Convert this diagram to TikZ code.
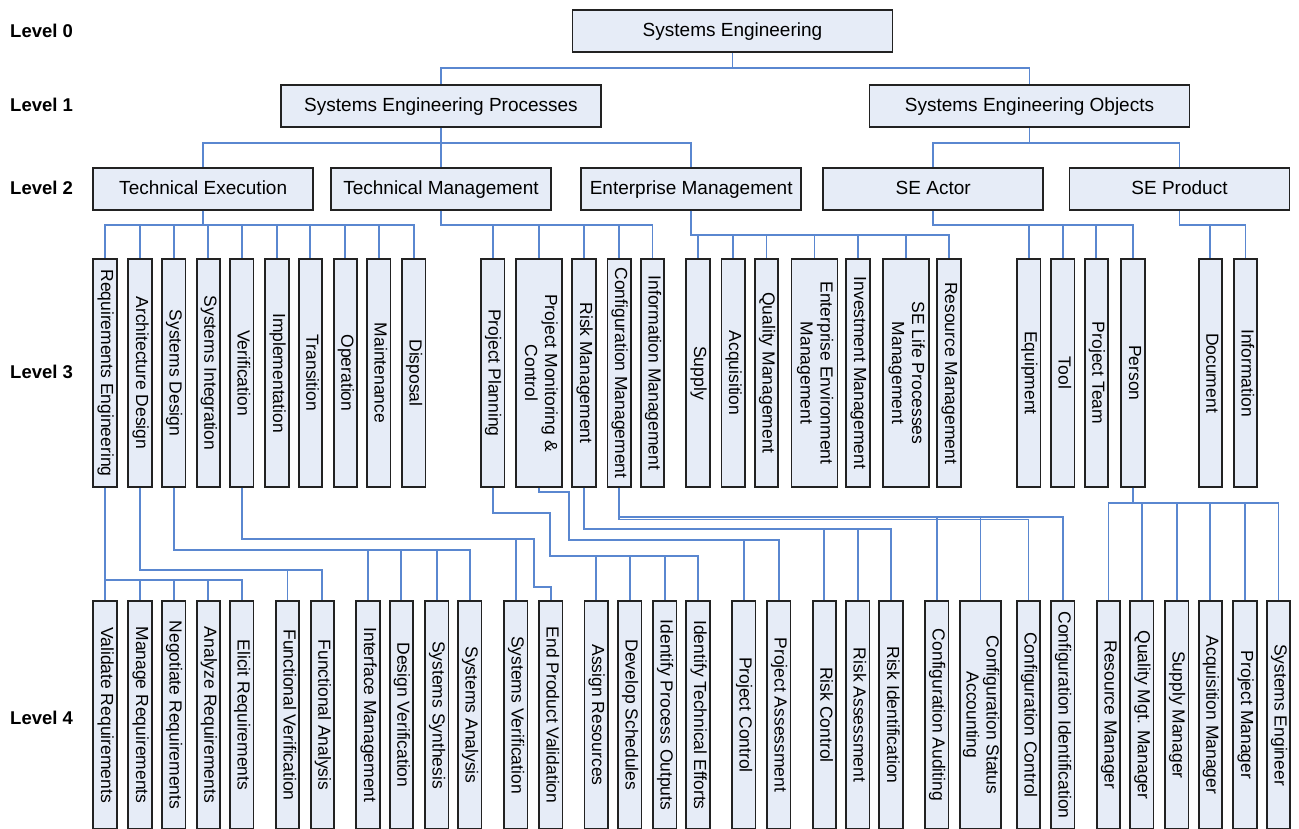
\documentclass[tikz,border=0pt]{standalone}
\usepackage{fontspec}
\setmainfont{Liberation Sans}
\usepackage{graphicx}
\definecolor{boxfill}{HTML}{E6ECF7}
\definecolor{boxline}{HTML}{222222}
\definecolor{linkblue}{HTML}{5A87D0}

% vertical (top-to-bottom) label, one or more centred lines
\newcommand{\vtxt}[1]{\rotatebox{-90}{\begin{tabular}{@{}c@{}}#1\end{tabular}}}

\begin{document}
\begin{tikzpicture}[x=1pt, y=-1pt,
  hbox/.style={draw=boxline, fill=boxfill, line width=1.8pt, minimum width=220pt,
    minimum height=42pt, inner sep=0pt, text height=12pt, text depth=1pt,
    font=\fontsize{19}{21}\selectfont},
  wbox/.style={hbox, minimum width=320pt},
  vbox/.style={draw=boxline, fill=boxfill, line width=1.8pt, minimum width=23.4pt,
    minimum height=228pt, inner sep=0pt, font=\fontsize{17.5}{20}\selectfont},
  vwide/.style={minimum width=46pt},
  conn/.style={draw=linkblue, line width=1.7pt},
  lvl/.style={anchor=west, inner sep=0pt, font=\fontsize{18.5}{20}\selectfont\bfseries},
]
\useasboundingbox (0,0) rectangle (1299,828);
\clip (0,0) rectangle (1299,828);

% ---------- level captions ----------
\node[lvl] (lv0) at (10,31)  {Level 0};
\node[lvl] (lv1) at (10,105) {Level 1};
\node[lvl] (lv2) at (10,188) {Level 2};
\node[lvl] (lv3) at (10,372) {Level 3};
\node[lvl] (lv4) at (10,718) {Level 4};

% ---------- bus heights ----------
\coordinate (y0) at (0,67.7);
\coordinate (y1) at (0,142.7);
\coordinate (y2) at (0,225.3);
\coordinate (y2e) at (0,234.7);
\coordinate (yRE) at (0,580);
\coordinate (yAD) at (0,570);
\coordinate (ySD) at (0,550);
\coordinate (yV) at (0,538.7);
\coordinate (yV2) at (0,586.7);
\coordinate (jV) at (534,538.7);
\coordinate (jP) at (550,512.7);
\coordinate (yPP) at (0,556);
\coordinate (jM) at (569.3,492.3);
\coordinate (yPM) at (0,540.3);
\coordinate (yRM) at (0,529.3);
\coordinate (yCM) at (0,517.3);
\coordinate (yCM2) at (0,519.6);
\coordinate (yPE) at (0,503.3);

% ---------- levels 0-2 ----------
\node[wbox] (se)  at (732.5,31) {Systems Engineering};
\node[wbox] (sep) at (441,106)  {Systems Engineering Processes};
\node[wbox] (seo) at (1029.5,106) {Systems Engineering Objects};
\node[hbox] (te)   at (203.2,189) {Technical Execution};
\node[hbox] (tm)   at (441,189)   {Technical Management};
\node[hbox] (em)   at (691.2,189) {Enterprise Management};
\node[hbox] (sea)  at (933.2,189) {SE Actor};
\node[hbox] (sepr) at (1179.5,189) {SE Product};

% ---------- level 3 ----------
\node[vbox] (re)   at (105,373)   {\vtxt{Requirements Engineering}};
\node[vbox] (ad)   at (140,373)   {\vtxt{Architecture Design}};
\node[vbox] (sd)   at (173.7,373) {\vtxt{Systems Design}};
\node[vbox] (si)   at (208.3,373) {\vtxt{Systems Integration}};
\node[vbox] (ver)  at (241.7,373) {\vtxt{Verification}};
\node[vbox] (imp)  at (277,373)   {\vtxt{Implementation}};
\node[vbox] (tra)  at (310.3,373) {\vtxt{Transition}};
\node[vbox] (op)   at (345.3,373) {\vtxt{Operation}};
\node[vbox] (mai)  at (378.7,373) {\vtxt{Maintenance}};
\node[vbox] (dis)  at (413.7,373) {\vtxt{Disposal}};

\node[vbox] (pp)   at (492.7,373) {\vtxt{Project Planning}};
\node[vbox,vwide] (pmc) at (539.2,373) {\vtxt{Project Monitoring \&\\Control}};
\node[vbox] (rm)   at (584,373)   {\vtxt{Risk Management}};
\node[vbox] (cm)   at (619.2,373) {\vtxt{Configuration Management}};
\node[vbox] (inm)  at (652.5,373) {\vtxt{Information Management}};

\node[vbox] (sup)  at (698,373)   {\vtxt{Supply}};
\node[vbox] (acq)  at (733.2,373) {\vtxt{Acquisition}};
\node[vbox] (qm)   at (766.5,373) {\vtxt{Quality Management}};
\node[vbox,vwide] (eem) at (814.5,373) {\vtxt{Enterprise Environment\\Management}};
\node[vbox] (inv)  at (858,373)   {\vtxt{Investment Management}};
\node[vbox,vwide] (selp) at (906,373) {\vtxt{SE Life Processes\\Management}};
\node[vbox] (resm) at (949,373)   {\vtxt{Resource Management}};

\node[vbox] (equ)  at (1028.8,373) {\vtxt{Equipment}};
\node[vbox] (tool) at (1062.7,373) {\vtxt{Tool}};
\node[vbox] (pt)   at (1096.3,373) {\vtxt{Project Team}};
\node[vbox] (per)  at (1133,373)   {\vtxt{Person}};

\node[vbox] (doc)  at (1210.3,373) {\vtxt{Document}};
\node[vbox] (info) at (1245.5,373) {\vtxt{Information}};

% ---------- level 4 ----------
\node[vbox] (vr)   at (105,715)   {\vtxt{Validate Requirements}};
\node[vbox] (mr)   at (140,715)   {\vtxt{Manage Requirements}};
\node[vbox] (nr)   at (173.7,715) {\vtxt{Negotiate Requirements}};
\node[vbox] (ar)   at (208.3,715) {\vtxt{Analyze Requirements}};
\node[vbox] (er)   at (241.7,715) {\vtxt{Elicit Requirements}};
\node[vbox] (fv)   at (287.5,715) {\vtxt{Functional Verification}};
\node[vbox] (fa)   at (322.3,715) {\vtxt{Functional Analysis}};
\node[vbox] (ifm)  at (368,715)   {\vtxt{Interface Management}};
\node[vbox] (dv)   at (401.3,715) {\vtxt{Design Verification}};
\node[vbox] (ss)   at (436.7,715) {\vtxt{Systems Synthesis}};
\node[vbox] (sa)   at (469.7,715) {\vtxt{Systems Analysis}};
\node[vbox] (sv)   at (515.7,715) {\vtxt{Systems Verification}};
\node[vbox] (epv)  at (550.7,715) {\vtxt{End Product Validation}};
\node[vbox] (asr)  at (596.2,715) {\vtxt{Assign Resources}};
\node[vbox] (dsc)  at (629.7,715) {\vtxt{Develop Schedules}};
\node[vbox] (ipo)  at (664.7,715) {\vtxt{Identify Process Outputs}};
\node[vbox] (ite)  at (698,715)   {\vtxt{Identify Technical Efforts}};
\node[vbox] (pc)   at (743.7,715) {\vtxt{Project Control}};
\node[vbox] (pa)   at (778.7,715) {\vtxt{Project Assessment}};
\node[vbox] (rc)   at (824.3,715) {\vtxt{Risk Control}};
\node[vbox] (ra)   at (857.7,715) {\vtxt{Risk Assessment}};
\node[vbox] (ri)   at (891,715)   {\vtxt{Risk Identification}};
\node[vbox] (ca)   at (936.7,715) {\vtxt{Configuration Auditing}};
\node[vbox,minimum width=41pt] (csa) at (980.5,715) {\vtxt{Configuration Status\\Accounting}};
\node[vbox] (cc)   at (1028.5,715) {\vtxt{Configuration Control}};
\node[vbox] (ci)   at (1062.7,715) {\vtxt{Configuration Identification}};
\node[vbox] (rmg)  at (1108.5,715) {\vtxt{Resource Manager}};
\node[vbox] (qmm)  at (1141.8,715) {\vtxt{Quality Mgt. Manager}};
\node[vbox] (smg)  at (1176.7,715) {\vtxt{Supply Manager}};
\node[vbox] (amg)  at (1210.3,715) {\vtxt{Acquisition Manager}};
\node[vbox] (pmg)  at (1245,715)   {\vtxt{Project Manager}};
\node[vbox] (seng) at (1278.5,715) {\vtxt{Systems Engineer}};

% ---------- connectors: levels 0-2 ----------
\draw[conn] (se.south) -- (se.south |- y0) -| (sep.north);
\draw[conn] (se.south |- y0) -| (seo.north);
\draw[conn] (sep.south) -- (tm.north);
\draw[conn] (sep.south |- y1) -| (te.north);
\draw[conn] (sep.south |- y1) -| (em.north);
\draw[conn] (seo.south) -- (seo.south |- y1) -| (sea.north);
\draw[conn] (seo.south |- y1) -| (sepr.north);

% ---------- connectors: level 2 to level 3 ----------
\foreach \c in {re,ad,sd,si,ver,imp,tra,op,mai,dis}
  \draw[conn] (te.south) |- (\c.north |- y2) -- (\c.north);
\foreach \c in {pp,pmc,rm,cm,inm}
  \draw[conn] (tm.south) |- (\c.north |- y2) -- (\c.north);
\foreach \c in {sup,acq,qm,eem,inv,selp,resm}
  \draw[conn] (em.south) |- (\c.north |- y2e) -- (\c.north);
\foreach \c in {equ,tool,pt,per}
  \draw[conn] (sea.south) |- (\c.north |- y2) -- (\c.north);
\foreach \c in {doc,info}
  \draw[conn] (sepr.south) |- (\c.north |- y2) -- (\c.north);

% ---------- connectors: level 3 to level 4 ----------
\foreach \c in {vr,mr,nr,ar,er}
  \draw[conn] (re.south) |- (\c.north |- yRE) -- (\c.north);
\foreach \c in {fv,fa}
  \draw[conn] (ad.south) |- (\c.north |- yAD) -- (\c.north);
\foreach \c in {ifm,dv,ss,sa}
  \draw[conn] (sd.south) |- (\c.north |- ySD) -- (\c.north);
\draw[conn] (ver.south) |- (sv.north |- yV) -- (sv.north);
\draw[conn] (ver.south) |- (jV) |- (epv.north |- yV2) -- (epv.north);
\foreach \c in {asr,dsc,ipo,ite}
  \draw[conn] (pp.south) |- (jP) |- (\c.north |- yPP) -- (\c.north);
\foreach \c in {pc,pa}
  \draw[conn] (pmc.south) |- (jM) |- (\c.north |- yPM) -- (\c.north);
\foreach \c in {rc,ra,ri}
  \draw[conn] (rm.south) |- (\c.north |- yRM) -- (\c.north);
\foreach \c in {ca,csa,ci}
  \draw[conn] (cm.south) |- (\c.north |- yCM) -- (\c.north);
\draw[conn] (cm.south) |- (cc.north |- yCM2) -- (cc.north);
\foreach \c in {rmg,qmm,smg,amg,pmg,seng}
  \draw[conn] (per.south) |- (\c.north |- yPE) -- (\c.north);
\end{tikzpicture}
\end{document}
